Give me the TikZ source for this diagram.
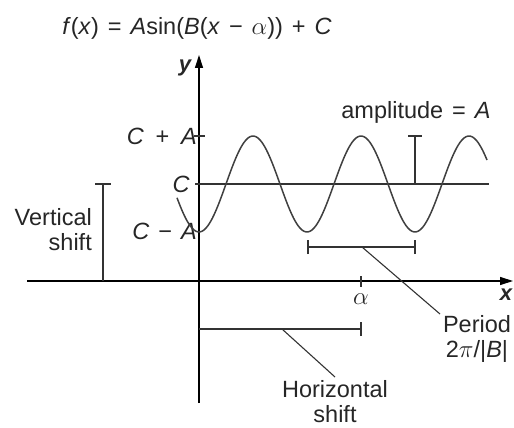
\documentclass[tikz,border=0pt]{standalone}
\usepackage{fontspec}
\setmainfont{Liberation Sans}
\usepackage{tikz}
\usetikzlibrary{
    arrows.meta,
    positioning
}
\newcommand{\vr}[1]{\textit{#1}}
\newcommand{\gp}{\hspace{.38em}}

\begin{document}
\begin{tikzpicture}[x=1pt,y=-1pt,
   lbl/.style={font=\fontsize{23.5}{25}\selectfont,inner sep=0pt,text=black!85},
   axisline/.style={line width=1.3pt,-{Triangle[length=13pt,width=8pt]}},
   bar/.style={line width=1.1pt,draw=black!80},
   wave/.style={line width=1.5pt,draw=black!75}]
  \useasboundingbox (0,0) rectangle (514,428);
  % axes
  \coordinate (ybot) at (199,403); \coordinate (ytop) at (199,55);
  \coordinate (xlft) at (27,281);  \coordinate (xrgt) at (513,281);
  \draw[axisline] (ybot)--(ytop);
  \draw[axisline] (xlft)--(xrgt);
  \node[lbl,font=\fontsize{22}{26}\selectfont\bfseries\itshape](ylbl) at (185,68){y};
  \node[lbl,font=\fontsize{22}{26}\selectfont\bfseries\itshape](xlbl) at (506,295){x};
  % formula
  \node[lbl](fml) at (197,28){\vr{f}(\vr{x})\gp=\gp\vr{A}sin(\vr{B}(\vr{x}\gp−\gp$\alpha$))\gp+\gp\vr{C}};
  % midline, ticks and their labels
  \coordinate (mid0) at (195,184); \coordinate (mid1) at (489,184);
  \draw[bar] (mid0)--(mid1);
  \coordinate (tk0) at (194,136); \coordinate (tk1) at (205,136);
  \draw[bar] (tk0)--(tk1);
  \node[lbl,anchor=east](cpa) at (197,136){\vr{C}\hspace{.5em}+\hspace{.5em}\vr{A}};
  \node[lbl,anchor=east](cc) at (190,184){\vr{C}};
  \node[lbl,anchor=east](cma) at (197,231){\vr{C}\gp−\gp\vr{A}};
  % the wave
  \draw[wave] plot[domain=177:487,samples=150,smooth] (\x,{184-48*cos((\x-469)/108*360)});
  % amplitude
  \coordinate (amptop) at (415,136); \coordinate (ampbot) at (415,184);
  \draw[bar] (amptop)--(ampbot);
  \draw[bar] ([xshift=-7pt]amptop)--([xshift=7pt]amptop);
  \node[lbl](amplbl) at (416,112){amplitude\gp=\gp\vr{A}};
  % vertical shift
  \coordinate (vtop) at (103,184); \coordinate (vbot) at (103,281);
  \draw[bar] (vtop)--(vbot);
  \draw[bar] ([xshift=-8pt]vtop)--([xshift=8pt]vtop);
  \node[lbl,anchor=east,align=right](vlbl) at (92,230){Vertical\\shift};
  % period
  \coordinate (pl) at (308,247); \coordinate (pr) at (415,247);
  \coordinate (pm) at (362,247); \coordinate (plead) at (440,314);
  \draw[bar] (pl)--(pr);
  \draw[bar] ([yshift=-7pt]pl)--([yshift=7pt]pl);
  \draw[bar] ([yshift=-7pt]pr)--([yshift=7pt]pr);
  \draw[bar] (pm)--(plead);
  \node[lbl,align=center](plbl) at (477,339){Period\\2$\pi$/|\vr{B}|};
  % alpha
  \coordinate (at0) at (361,276); \coordinate (at1) at (361,287);
  \draw[bar] (at0)--(at1);
  \node[lbl](albl) at (361,299){$\alpha$};
  % horizontal shift
  \coordinate (hl) at (199,329); \coordinate (hr) at (361,329);
  \coordinate (hm) at (282,329); \coordinate (hlead) at (335,377);
  \draw[bar] (hl)--(hr);
  \draw[bar] ([yshift=-7pt]hr)--([yshift=7pt]hr);
  \draw[bar] (hm)--(hlead);
  \node[lbl,align=center](hlbl) at (335,402){Horizontal\\shift};
\end{tikzpicture}
\end{document}
